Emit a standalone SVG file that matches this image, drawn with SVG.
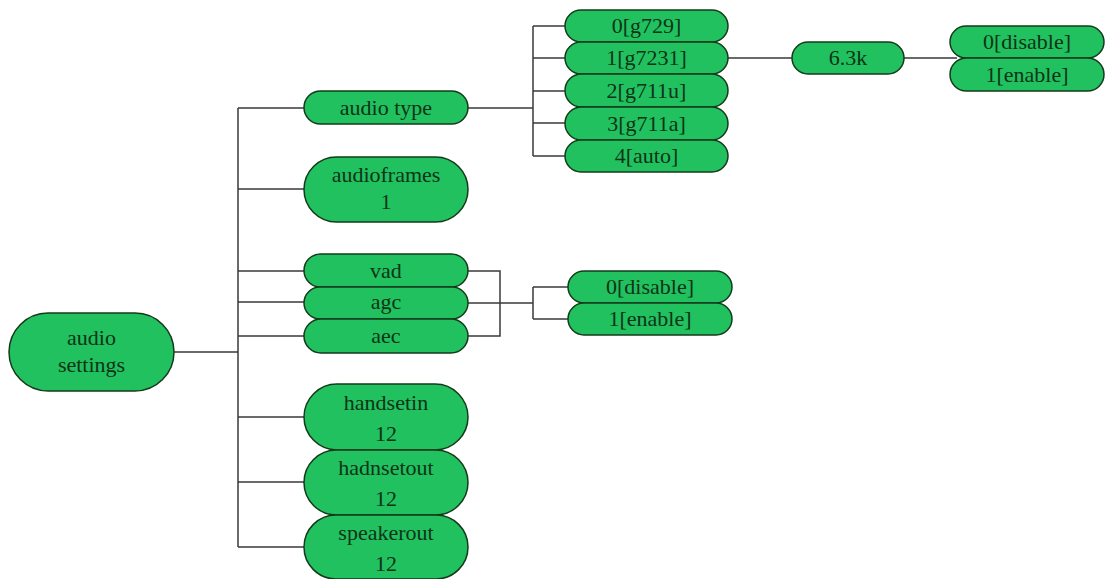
<svg xmlns="http://www.w3.org/2000/svg" width="1108" height="579" viewBox="0 0 1108 579">
<style>
.n rect{fill:#20c15e;stroke:#143a1c;stroke-width:1.5}
.n text{font-family:"Liberation Serif","Times New Roman",serif;font-size:22px;fill:#0e3318;text-anchor:middle}
.c path{fill:none;stroke:#3a3a3a;stroke-width:1.5}
</style>
<rect width="1108" height="579" fill="#ffffff"/>
<g class="c" id="connectors">
<path d="M174 352H238M238 108V547M238 108H304M238 189H304M238 271H304M238 302H304M238 336H304M238 417H304M238 482H304M238 547H304"/>
<path d="M468 108H533M533 26V156M533 26H565M533 58H565M533 91H565M533 123H565M533 156H565"/>
<path d="M728 58H792M904 58H957"/>
<path d="M468 271H500V336H468M468 303H533M533 287V319M533 287H568M533 319H568"/>
</g>
<g class="n" id="audio-settings"><rect x="9" y="313" width="165" height="78" rx="39"/><text x="91.5" y="345">audio</text><text x="91.5" y="372">settings</text></g>
<g class="n" id="audio-type"><rect x="304" y="91" width="164" height="33" rx="16.5"/><text x="386" y="115">audio type</text></g>
<g class="n" id="audioframes"><rect x="304" y="157" width="164" height="65" rx="32.5"/><text x="386" y="182">audioframes</text><text x="386" y="209">1</text></g>
<g class="n" id="vad"><rect x="304" y="254" width="164" height="33" rx="16.5"/><text x="386" y="278">vad</text></g>
<g class="n" id="agc"><rect x="304" y="287" width="164" height="32" rx="16"/><text x="386" y="309">agc</text></g>
<g class="n" id="aec"><rect x="304" y="319" width="164" height="34" rx="17"/><text x="386" y="343">aec</text></g>
<g class="n" id="handsetin"><rect x="304" y="384" width="164" height="66" rx="33"/><text x="386" y="410">handsetin</text><text x="386" y="441">12</text></g>
<g class="n" id="hadnsetout"><rect x="304" y="450" width="164" height="65" rx="32.5"/><text x="386" y="475">hadnsetout</text><text x="386" y="506">12</text></g>
<g class="n" id="speakerout"><rect x="304" y="515" width="164" height="64" rx="32"/><text x="386" y="540">speakerout</text><text x="386" y="571">12</text></g>
<g class="n" id="g729"><rect x="565" y="10" width="163" height="32" rx="16"/><text x="646.5" y="33">0[g729]</text></g>
<g class="n" id="g7231"><rect x="565" y="42" width="163" height="32" rx="16"/><text x="646.5" y="65">1[g7231]</text></g>
<g class="n" id="g711u"><rect x="565" y="74" width="163" height="33" rx="16.5"/><text x="646.5" y="98">2[g711u]</text></g>
<g class="n" id="g711a"><rect x="565" y="107" width="163" height="33" rx="16.5"/><text x="646.5" y="131">3[g711a]</text></g>
<g class="n" id="auto"><rect x="565" y="140" width="163" height="32" rx="16"/><text x="646.5" y="163">4[auto]</text></g>
<g class="n" id="k63"><rect x="792" y="42" width="112" height="32" rx="16"/><text x="848" y="65">6.3k</text></g>
<g class="n" id="top-disable"><rect x="950" y="26" width="154" height="32" rx="16"/><text x="1027" y="49">0[disable]</text></g>
<g class="n" id="top-enable"><rect x="950" y="58" width="154" height="33" rx="16.5"/><text x="1027" y="82">1[enable]</text></g>
<g class="n" id="low-disable"><rect x="568" y="271" width="164" height="32" rx="16"/><text x="650" y="294">0[disable]</text></g>
<g class="n" id="low-enable"><rect x="568" y="303" width="164" height="32" rx="16"/><text x="650" y="326">1[enable]</text></g>
</svg>
